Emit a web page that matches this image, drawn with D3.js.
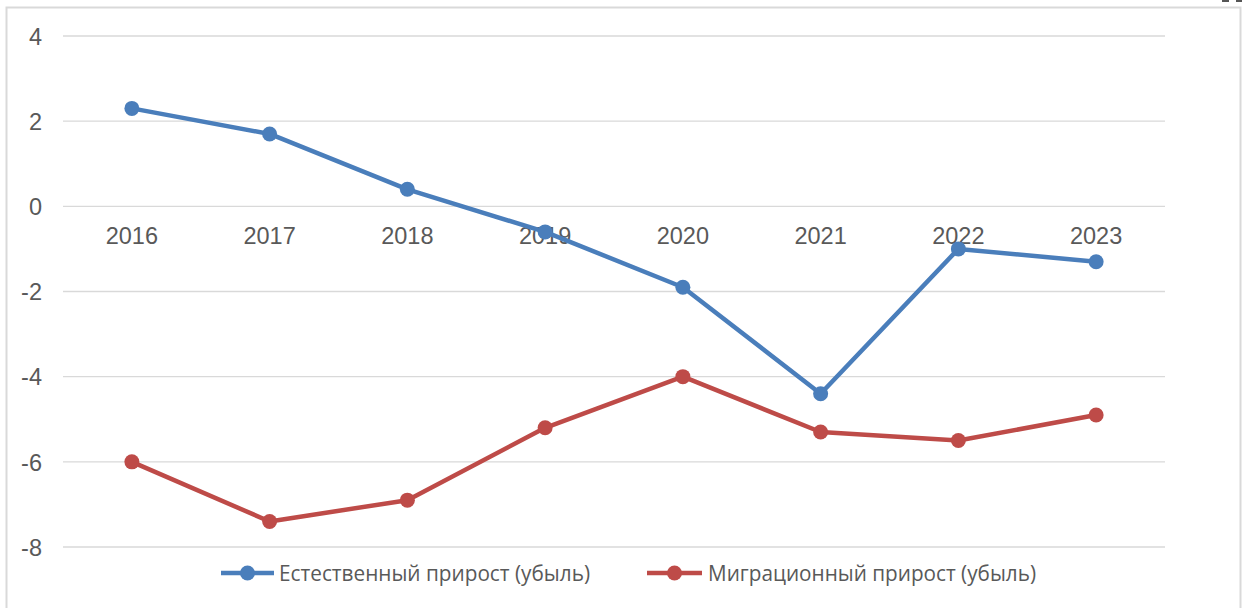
<!DOCTYPE html>
<html><head><meta charset="utf-8">
<script src="https://cdn.jsdelivr.net/npm/d3@7"></script>
<style>body{margin:0;background:#fff}svg{display:block}</style>
</head><body>
<svg id="c" width="1244" height="608"></svg>
<script>
const categories = ["2016","2017","2018","2019","2020","2021","2022","2023"];
const natural = [2.3, 1.7, 0.4, -0.6, -1.9, -4.4, -1.0, -1.3];
const migration = [-6.0, -7.4, -6.9, -5.2, -4.0, -5.3, -5.5, -4.9];
const yTicks = [4, 2, 0, -2, -4, -6, -8];
const seriesNames = ["Естественный прирост (убыль)", "Миграционный прирост (убыль)"];
const colors = ["#4a7ebb", "#be4b48"];

const svg = d3.select("#c");
// outer frame
svg.append("rect").attr("x",6.5).attr("y",7.5).attr("width",1234).attr("height",620)
  .attr("fill","#fff").attr("stroke","#d9d9d9").attr("stroke-width",2);
svg.append("rect").attr("x",1222).attr("y",0).attr("width",7).attr("height",2).attr("fill","#555");
svg.append("rect").attr("x",1236).attr("y",0).attr("width",6).attr("height",2).attr("fill","#555");

const x = d3.scaleBand().domain(categories).range([63,1165]);
const y = d3.scaleLinear().domain([-8,4]).range([547,36]);

// gridlines
svg.append("g").selectAll("line").data(yTicks).join("line")
  .attr("x1",63).attr("x2",1165).attr("y1",d=>y(d)).attr("y2",d=>y(d))
  .attr("stroke","#d9d9d9").attr("stroke-width",1.3);

// y axis labels
const yAxis = d3.axisLeft(y).tickValues(yTicks).tickSize(0).tickPadding(0)
  .tickFormat(d=>String(d));
const gy = svg.append("g").attr("transform","translate(42,0)").call(yAxis);
gy.select(".domain").remove();
gy.selectAll("text").attr("font-family","'Liberation Sans', Arial, sans-serif")
  .attr("font-size",23.5).attr("fill","#595959").attr("dy","0.35em");

// x axis labels at zero line
const xAxis = d3.axisBottom(x).tickSize(0).tickPadding(0);
const gx = svg.append("g").attr("transform",`translate(0,${y(0)})`).call(xAxis);
gx.select(".domain").remove();
gx.selectAll("text").attr("font-family","'Liberation Sans', Arial, sans-serif")
  .attr("font-size",23.5).attr("fill","#595959").attr("dy","1.62em");

const line = d3.line().x((d,i)=>x(categories[i])+x.bandwidth()/2).y(d=>y(d));
[natural, migration].forEach((s,k)=>{
  svg.append("path").datum(s).attr("d",line).attr("fill","none")
    .attr("stroke",colors[k]).attr("stroke-width",4.5).attr("stroke-linejoin","round");
  svg.append("g").selectAll("circle").data(s).join("circle")
    .attr("cx",(d,i)=>x(categories[i])+x.bandwidth()/2).attr("cy",d=>y(d))
    .attr("r",7.5).attr("fill",colors[k]);
});

// legend
const legend = [
  {x1:221, x2:274, tx:279, tl:311},
  {x1:647, x2:702, tx:708, tl:328}
];
legend.forEach((L,k)=>{
  const ly = 573;
  svg.append("line").attr("x1",L.x1).attr("x2",L.x2).attr("y1",ly).attr("y2",ly)
    .attr("stroke",colors[k]).attr("stroke-width",4.5);
  svg.append("circle").attr("cx",(L.x1+L.x2)/2).attr("cy",ly).attr("r",7.5).attr("fill",colors[k]);
  svg.append("text").attr("x",L.tx).attr("y",ly+8).text(seriesNames[k])
    .attr("font-family","'Open Sans', 'Liberation Sans', sans-serif").attr("font-size",22)
    .attr("fill","#595959").attr("textLength",L.tl).attr("lengthAdjust","spacingAndGlyphs");
});
</script>
</body></html>
